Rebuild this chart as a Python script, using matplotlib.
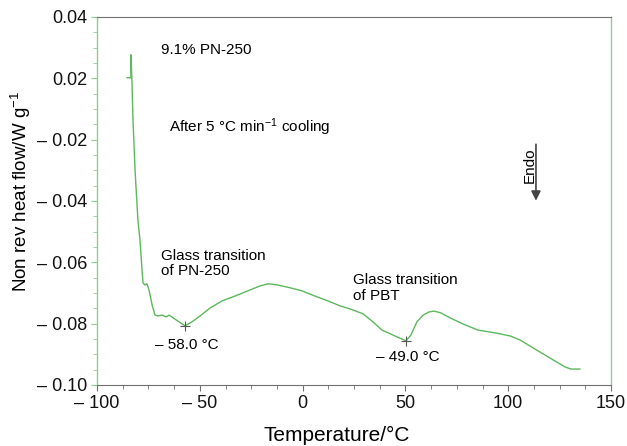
import matplotlib
matplotlib.use("Agg")
import matplotlib.pyplot as plt
from matplotlib.ticker import MultipleLocator

plt.rcParams['font.family'] = ['Liberation Sans', 'DejaVu Sans']
plt.rcParams['mathtext.fontset'] = 'custom'
plt.rcParams['mathtext.rm'] = 'Liberation Sans'
plt.rcParams['mathtext.it'] = 'Liberation Sans:italic'

# curve (temperature in deg C, heat flow on the axis scale)
temp = [-85.4, -83.5, -83.5, -83.0, -82.5, -81.5, -80.1, -79.1, -78.1, -77.6,
        -76.7, -75.7, -74.7, -73.2, -71.8, -70.3, -68.4, -66.4, -64.9, -63.0,
        -60.1, -57.2, -53.8, -49.9, -45.0, -39.2, -32.9, -26.6, -20.7, -16.8,
        -12.0, -6.1, -0.3, 6.0, 12.4, 18.2, 23.1, 29.4, 34.2, 38.6,
        44.9, 50.3, 52.7, 55.6, 58.6, 61.5, 63.9, 67.3, 71.7, 78.0,
        85.3, 93.6, 100.9, 105.7, 112.1, 120.3, 127.6, 130.5, 134.9]
flow = [0.0002, 0.0002, 0.0077, -0.0008, -0.0135, -0.0298, -0.0462, -0.0527, -0.0625, -0.0667,
        -0.0674, -0.0670, -0.0690, -0.0739, -0.0772, -0.0775, -0.0772, -0.0778, -0.0772, -0.0781,
        -0.0794, -0.0807, -0.0794, -0.0775, -0.0749, -0.0726, -0.0710, -0.0693, -0.0677, -0.0670,
        -0.0674, -0.0683, -0.0693, -0.0710, -0.0726, -0.0742, -0.0752, -0.0768, -0.0794, -0.0821,
        -0.0840, -0.0856, -0.0837, -0.0794, -0.0772, -0.0762, -0.0759, -0.0765, -0.0781, -0.0801,
        -0.0821, -0.0830, -0.0840, -0.0853, -0.0879, -0.0912, -0.0941, -0.0948, -0.0948]

# glass transition markers
tg_temp = [-57.2, 50.3]
tg_flow = [-0.0807, -0.0856]

y_ticks = [-0.10, -0.08, -0.06, -0.04, -0.02, 0.00, 0.02]
y_labels = ['– 0.10', '– 0.08', '– 0.06', '– 0.04', '– 0.02', '0.02', '0.04']
x_ticks = [-100, -50, 0, 50, 100, 150]
x_labels = ['– 100', '– 50', '0', '50', '100', '150']

green = '#5cb85c'
spine_green = '#8ccf8a'
grey = '#707070'

fig = plt.figure(figsize=(6.27, 4.46), dpi=100)
fig.set_facecolor('white')
ax = fig.add_axes([0.1547, 0.1368, 0.8198, 0.8251])

ax.plot(temp, flow, color=green, linewidth=1.0)
ax.plot(tg_temp, tg_flow, linestyle='none', marker='+', color='#555555',
        markersize=7, markeredgewidth=0.8)

ax.set_xlim(-100, 150)
ax.set_ylim(-0.10, 0.02)
ax.set_xticks(x_ticks)
ax.set_xticklabels(x_labels)
ax.set_yticks(y_ticks)
ax.set_yticklabels(y_labels)
ax.xaxis.set_minor_locator(MultipleLocator(12.5))
ax.yaxis.set_minor_locator(MultipleLocator(0.005))
ax.tick_params(which='major', length=4, width=0.8, color=grey, labelsize=13,
               labelcolor='#111111', pad=3)
ax.tick_params(which='minor', length=3, width=0.6, color=grey)
ax.tick_params(axis='y', which='both', color=spine_green)

for side in ['top', 'bottom']:
    ax.spines[side].set_color(grey)
    ax.spines[side].set_linewidth(0.8)
for side in ['left', 'right']:
    ax.spines[side].set_color(spine_green)
    ax.spines[side].set_linewidth(1.0)

ax.set_xlabel('Temperature/°C', fontsize=15)
ax.xaxis.set_label_coords(0.467, -0.112)
ax.set_ylabel('Non rev heat flow/W g$^{-1}$', fontsize=13.5)
ax.yaxis.set_label_coords(-0.1245, 0.527)

fs = 11
ax.text(-68.7, 0.0093, '9.1% PN-250', fontsize=fs, va='center')
ax.text(-65.0, -0.0160, 'After 5 °C min$^{-1}$ cooling', fontsize=fs, va='center')
ax.text(-68.7, -0.0555, 'Glass transition\nof PN-250', fontsize=fs, va='top',
        linespacing=1.15)
ax.text(-72.0, -0.0870, '– 58.0 °C', fontsize=fs, va='center')
ax.text(24.5, -0.0635, 'Glass transition\nof PBT', fontsize=fs, va='top',
        linespacing=1.15)
ax.text(35.5, -0.0910, '– 49.0 °C', fontsize=fs, va='center')

ax.annotate('', xy=(113.5, -0.0408), xytext=(113.5, -0.0206),
            arrowprops=dict(arrowstyle='-|>', color='#444444', lw=1.2,
                            mutation_scale=14))
ax.text(110.5, -0.0285, 'Endo', fontsize=fs, rotation=90, ha='center', va='center')

fig.savefig('out.png', dpi=100, facecolor='white')
